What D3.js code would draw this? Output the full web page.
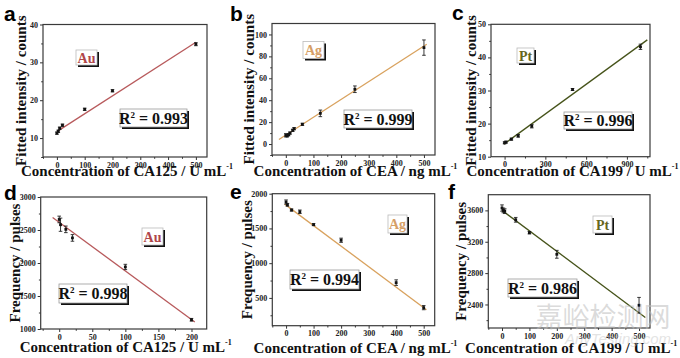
<!DOCTYPE html>
<html><head><meta charset="utf-8">
<script src="https://cdn.jsdelivr.net/npm/d3@7/dist/d3.min.js"></script>
<style>
html,body{margin:0;padding:0;background:#fff;}
svg{display:block;}
text{font-family:"Liberation Serif","Times New Roman",serif;font-weight:bold;}
</style></head><body>
<svg id="chart" width="680" height="358"></svg>
<script>
// ---------- DATA ----------
const aX = [0, 5, 10, 20, 100, 200, 500];
const aY = [11.3, 11.8, 12.6, 13.4, 17.6, 22.5, 34.8];
const aErr = [0.3, 0.3, 0.3, 0.3, 0.3, 0.3, 0.4];
const aFitX = [0, 500];
const aFitY = [11.7, 35.3];

const bX = [0, 5, 10, 15, 25, 30, 60, 125, 250, 500];
const bY = [8, 7.5, 8.5, 10, 12.5, 14, 18, 28, 50, 88];
const bErr = [1.5, 1, 1, 1, 1, 1, 1, 3, 3, 7];
const bFitX = [-25, 510];
const bFitY = [4.2, 91];

const cX = [0, 10, 50, 100, 200, 500, 1000];
const cY = [14.2, 14.4, 15.3, 16.3, 19.2, 30.3, 43.2];
const cErr = [0.3, 0.3, 0.3, 0.4, 0.5, 0.3, 0.8];
const cFitX = [-5, 1050];
const cFitY = [13.8, 45.3];

const dX = [0, 2, 10, 20, 100, 200];
const dY = [2660, 2580, 2510, 2380, 1940, 1140];
const dErr = [50, 100, 50, 50, 40, 20];
const dFitX = [-10, 205];
const dFitY = [2690, 1105];

const eX = [0, 5, 20, 50, 100, 200, 400, 500];
const eY = [1880, 1840, 1765, 1740, 1555, 1330, 720, 360];
const eErr = [30, 20, 15, 25, 15, 30, 40, 30];
const eFitX = [-5, 510];
const eFitY = [1850, 330];

const fX = [0, 5, 10, 50, 100, 200, 500];
const fY = [3630, 3600, 3590, 3480, 3315, 3040, 2390];
const fErr = [40, 30, 30, 30, 15, 50, 100];
const fFitX = [0, 523];
const fFitY = [3600, 2235];

const xTicksA = [0, 100, 200, 300, 400, 500];
const yTicksA = [10, 20, 30, 40];
const xTicksB = [0, 100, 200, 300, 400, 500];
const yTicksB = [0, 20, 40, 60, 80, 100];
const xTicksC = [0, 300, 600, 900];
const yTicksC = [10, 20, 30, 40, 50];
const xTicksD = [0, 50, 100, 150, 200];
const yTicksD = [1000, 1500, 2000, 2500, 3000];
const xTicksE = [0, 100, 200, 300, 400, 500];
const yTicksE = [500, 1000, 1500, 2000];
const xTicksF = [0, 100, 200, 300, 400, 500];
const yTicksF = [2400, 2800, 3200, 3600];

const letters = ["a", "b", "c", "d", "e", "f"];
const elements = ["Au", "Ag", "Pt", "Au", "Ag", "Pt"];
const r2Values = ["0.993", "0.999", "0.996", "0.998", "0.994", "0.986"];
const yTitles = ["Fitted intensity / counts", "Fitted intensity / counts", "Fitted intensity / counts",
                 "Frequency / pulses", "Frequency / pulses", "Frequency / pulses"];
const xTitles = ["Concentration of CA125 / U mL", "Concentration of CEA / ng mL", "Concentration of CA199 / U mL",
                 "Concentration of CA125 / U mL", "Concentration of CEA / ng mL", "Concentration of CA199 / U mL"];

// ---------- LAYOUT ----------
const colors = {Au: {line: "#b85a5c", text: "#b0464a"}, Ag: {line: "#d9a25e", text: "#d69f66"}, Pt: {line: "#46531a", text: "#66661c"}};

const panels = [
  {x: aX, y: aY, e: aErr, fx: aFitX, fy: aFitY, xt: xTicksA, yt: yTicksA, xd: [-50, 540], yd: [5, 40],
   box: [43, 24.5, 207, 157], letter: [4, 20.5], yl: 21, xlY: 176, el: [76, 50, 21, 15], r2: [120, 109, 67, 18]},
  {x: bX, y: bY, e: bErr, fx: bFitX, fy: bFitY, xt: xTicksB, yt: yTicksB, xd: [-50, 540], yd: [-10, 110],
   box: [272, 23.5, 435, 155], letter: [230, 20.5], yl: 249, xlY: 176, el: [303, 41.5, 21, 17], r2: [344, 110, 68, 18]},
  {x: cX, y: cY, e: cErr, fx: cFitX, fy: cFitY, xt: xTicksC, yt: yTicksC, xd: [-100, 1070], yd: [10, 50],
   box: [491, 24.3, 650, 156.7], letter: [452, 20], yl: 471, xlY: 176, el: [517, 48, 17, 15], r2: [564, 112, 68, 17]},
  {x: dX, y: dY, e: dErr, fx: dFitX, fy: dFitY, xt: xTicksD, yt: yTicksD, xd: [-28, 223], yd: [1000, 3000],
   box: [40.7, 197, 206.7, 329], letter: [4, 200], yl: 15, xlY: 352, el: [142, 228, 21, 17], r2: [59, 284, 68, 19]},
  {x: eX, y: eY, e: eErr, fx: eFitX, fy: eFitY, xt: xTicksE, yt: yTicksE, xd: [-50, 540], yd: [100, 2000],
   box: [272.3, 193.7, 434.7, 325.7], letter: [230, 199], yl: 247, xlY: 353, el: [388, 215, 19, 18], r2: [290, 270, 69, 19]},
  {x: fX, y: fY, e: fErr, fx: fFitX, fy: fFitY, xt: xTicksF, yt: yTicksF, xd: [-50, 540], yd: [2100, 3800],
   box: [488.3, 194.7, 650, 328], letter: [448, 199], yl: 461, xlY: 353, el: [593, 216, 19, 17], r2: [508, 279, 69, 18]}
];

const svg = d3.select("#chart");

panels.forEach((p, i) => {
  const [x0, y0, x1, y1] = p.box;
  const xs = d3.scaleLinear().domain(p.xd).range([x0, x1]);
  const ys = d3.scaleLinear().domain(p.yd).range([y1, y0]);
  const el = elements[i];
  const col = colors[el];
  const g = svg.append("g");

  // minor ticks
  const xStep = p.xt[1] - p.xt[0], yStep = p.yt[1] - p.yt[0];
  const xMinor = d3.range(p.xt[0] - xStep / 2, p.xd[1], xStep / 2).filter(v => v >= p.xd[0] && v <= p.xd[1] && !p.xt.includes(v));
  const yMinor = d3.range(p.yt[0] - yStep / 2, p.yd[1], yStep / 2).filter(v => v >= p.yd[0] && v <= p.yd[1] && !p.yt.includes(v));

  const xAxis = d3.axisBottom(xs).tickValues(p.xt).tickSize(3).tickPadding(2).tickFormat(d3.format("d"));
  const yAxis = d3.axisLeft(ys).tickValues(p.yt).tickSize(3).tickPadding(2).tickFormat(d3.format("d"));
  const gx = g.append("g").attr("transform", `translate(0,${y1})`).call(xAxis);
  const gy = g.append("g").attr("transform", `translate(${x0},0)`).call(yAxis);
  g.append("g").attr("transform", `translate(0,${y1})`).call(d3.axisBottom(xs).tickValues(xMinor).tickSize(1.8).tickFormat(""));
  g.append("g").attr("transform", `translate(${x0},0)`).call(d3.axisLeft(ys).tickValues(yMinor).tickSize(1.8).tickFormat(""));
  g.selectAll(".domain").remove();
  g.selectAll(".tick line").attr("stroke", "#333").attr("stroke-width", 1);
  [gx, gy].forEach(a => a.selectAll("text").attr("font-size", 8).attr("fill", "#222")
    .style("font-family", "'Liberation Serif',serif").style("font-weight", "bold"));

  // frame
  g.append("rect").attr("x", x0).attr("y", y0).attr("width", x1 - x0).attr("height", y1 - y0)
    .attr("fill", "none").attr("stroke", "#3a3a3a").attr("stroke-width", 1.2);

  // fit line
  const line = d3.line().x(d => xs(d[0])).y(d => ys(d[1]));
  g.append("path").datum(p.fx.map((v, k) => [v, p.fy[k]])).attr("d", line)
    .attr("fill", "none").attr("stroke", col.line).attr("stroke-width", 1.3);

  // error bars & points
  p.x.forEach((xv, k) => {
    const cx = xs(xv), top = ys(p.y[k] + p.e[k]), bot = ys(p.y[k] - p.e[k]);
    g.append("line").attr("x1", cx).attr("x2", cx).attr("y1", top).attr("y2", bot).attr("stroke", "#222").attr("stroke-width", 0.9);
    [top, bot].forEach(yy => g.append("line").attr("x1", cx - 1.8).attr("x2", cx + 1.8).attr("y1", yy).attr("y2", yy)
      .attr("stroke", "#222").attr("stroke-width", 0.9));
    g.append("rect").attr("x", cx - 1.4).attr("y", ys(p.y[k]) - 1.4).attr("width", 2.8).attr("height", 2.8).attr("fill", "#111");
  });

  // element label box
  const [ex, ey, ew, eh] = p.el;
  g.append("rect").attr("x", ex + 2).attr("y", ey + 2).attr("width", ew).attr("height", eh).attr("fill", "#111");
  g.append("rect").attr("x", ex).attr("y", ey).attr("width", ew).attr("height", eh).attr("fill", "#fff")
    .attr("stroke", "#bbb").attr("stroke-width", 0.8);
  g.append("text").attr("x", ex + ew / 2).attr("y", ey + eh / 2 + 5).attr("text-anchor", "middle")
    .attr("font-size", 14).attr("fill", col.text).text(el);

  // R2 box
  const [rx, ry, rw, rh] = p.r2;
  g.append("rect").attr("x", rx + 2).attr("y", ry + 2).attr("width", rw).attr("height", rh).attr("fill", "#111");
  g.append("rect").attr("x", rx).attr("y", ry).attr("width", rw).attr("height", rh).attr("fill", "#fff")
    .attr("stroke", "#999").attr("stroke-width", 0.8);
  const rt = g.append("text").attr("x", rx + rw / 2).attr("y", ry + rh / 2 + 5.5).attr("text-anchor", "middle")
    .attr("font-size", 16).attr("fill", "#111");
  rt.append("tspan").text("R");
  rt.append("tspan").attr("font-size", 9).attr("dy", -6).text("2");
  rt.append("tspan").attr("dy", 6).text(" = " + r2Values[i]);

  // axis titles
  g.append("text").attr("transform", `translate(${p.yl + 5},${(y0 + y1) / 2}) rotate(-90)`).attr("text-anchor", "middle")
    .attr("font-size", 15).attr("fill", "#111").text(yTitles[i]);
  const xt = g.append("text").attr("x", (x0 + x1) / 2 + 2).attr("y", p.xlY).attr("text-anchor", "middle")
    .attr("font-size", 15).attr("fill", "#111");
  xt.append("tspan").text(xTitles[i]);
  xt.append("tspan").attr("font-size", 8).attr("dy", -7).text("-1");

  // panel letter
  svg.append("text").attr("x", p.letter[0]).attr("y", p.letter[1]).attr("font-size", 21)
    .style("font-family", "'Liberation Sans',Arial,sans-serif").attr("fill", "#000").text(letters[i]);
});

// watermark
svg.append("text").attr("x", 603).attr("y", 327).attr("text-anchor", "middle").attr("font-size", 27)
  .style("font-family", "'Noto Sans CJK SC',sans-serif").style("font-weight", "normal")
  .attr("fill", "#bdbdbd").attr("fill-opacity", 0.55).text("嘉峪检测网");
svg.append("text").attr("x", 618).attr("y", 344).attr("text-anchor", "middle").attr("font-size", 15)
  .style("font-family", "'Liberation Sans',sans-serif").style("font-style", "italic").style("font-weight", "normal")
  .attr("fill", "#c8c8c8").attr("fill-opacity", 0.5).text("AnyTesting.com");
</script>
</body></html>
